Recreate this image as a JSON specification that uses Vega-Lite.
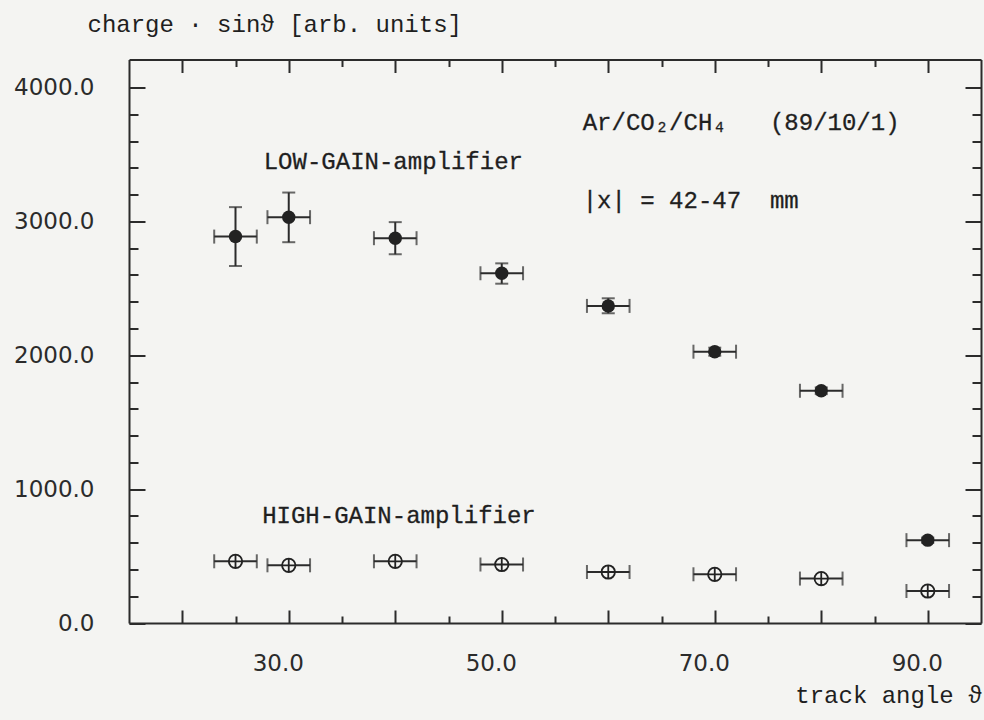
{
  "$schema": "https://vega.github.io/schema/vega-lite/v6.json",
  "width": 852,
  "height": 563.5,
  "autosize": {"type": "none"},
  "padding": {"left": 129, "top": 59.5, "right": 3, "bottom": 97},
  "background": "#f4f4f2",
  "config": {
    "view": {"stroke": null},
    "axis": {
      "grid": false,
      "domainColor": "#2b2b2b",
      "domainWidth": 2,
      "tickColor": "#2b2b2b",
      "tickWidth": 2,
      "labelFont": "DejaVu Sans",
      "labelFontSize": 23,
      "labelColor": "#2b2b2b",
      "titleFont": "Liberation Mono",
      "titleFontSize": 24,
      "titleFontWeight": "normal",
      "titleColor": "#1f1f1f"
    }
  },
  "datasets": {
    "low": [
      {"angle": 25, "charge": 2887, "alo": 23, "ahi": 27, "clo": 2667, "chi": 3107},
      {"angle": 30, "charge": 3032, "alo": 28, "ahi": 32, "clo": 2845, "chi": 3216},
      {"angle": 40, "charge": 2875, "alo": 38, "ahi": 42, "clo": 2755, "chi": 2995},
      {"angle": 50, "charge": 2613, "alo": 48, "ahi": 52, "clo": 2535, "chi": 2687},
      {"angle": 60, "charge": 2369, "alo": 58, "ahi": 62, "clo": 2314, "chi": 2426},
      {"angle": 70, "charge": 2027, "alo": 68, "ahi": 72, "clo": 1997, "chi": 2057},
      {"angle": 80, "charge": 1735, "alo": 78, "ahi": 82, "clo": 1710, "chi": 1760},
      {"angle": 90, "charge": 619, "alo": 88, "ahi": 92, "clo": 599, "chi": 639}
    ],
    "high": [
      {"angle": 25, "charge": 461, "alo": 23, "ahi": 27},
      {"angle": 30, "charge": 431, "alo": 28, "ahi": 32},
      {"angle": 40, "charge": 461, "alo": 38, "ahi": 42},
      {"angle": 50, "charge": 437, "alo": 48, "ahi": 52},
      {"angle": 60, "charge": 381, "alo": 58, "ahi": 62},
      {"angle": 70, "charge": 364, "alo": 68, "ahi": 72},
      {"angle": 80, "charge": 332, "alo": 78, "ahi": 82},
      {"angle": 90, "charge": 239, "alo": 88, "ahi": 92}
    ]
  },
  "resolve": {"axis": {"x": "independent", "y": "independent"}},
  "layer": [
    {
      "data": {"name": "low"},
      "mark": {"type": "errorbar", "color": "#2b2b2b", "thickness": 2, "ticks": {"size": 14, "thickness": 2}},
      "encoding": {
        "x": {"field": "alo", "type": "quantitative", "axis": null, "scale": {"domain": [15, 95], "nice": false, "zero": false}},
        "x2": {"field": "ahi"},
        "y": {"field": "charge", "type": "quantitative", "axis": null, "scale": {"domain": [0, 4210], "nice": false}}
      }
    },
    {
      "data": {"name": "low"},
      "mark": {"type": "errorbar", "color": "#2b2b2b", "thickness": 2, "ticks": {"size": 13, "thickness": 2}},
      "encoding": {
        "x": {"field": "angle", "type": "quantitative", "axis": null},
        "y": {"field": "clo", "type": "quantitative", "axis": null},
        "y2": {"field": "chi"}
      }
    },
    {
      "data": {"name": "high"},
      "mark": {"type": "errorbar", "color": "#2b2b2b", "thickness": 2, "ticks": {"size": 14, "thickness": 2}},
      "encoding": {
        "x": {"field": "alo", "type": "quantitative", "axis": null},
        "x2": {"field": "ahi"},
        "y": {"field": "charge", "type": "quantitative", "axis": null}
      }
    },
    {
      "data": {"name": "low"},
      "mark": {"type": "point", "shape": "circle", "filled": true, "size": 180, "color": "#222222", "opacity": 1},
      "encoding": {
        "x": {
          "field": "angle", "type": "quantitative",
          "scale": {"domain": [15, 95], "nice": false, "zero": false},
          "axis": {
            "orient": "bottom",
            "values": [20, 25, 30, 35, 40, 45, 50, 55, 60, 65, 70, 75, 80, 85, 90],
            "tickSize": {"condition": {"test": "datum.value % 10 === 0", "value": -13}, "value": -7},
            "labelExpr": "datum.value % 20 === 10 ? format(datum.value, '.1f') : ''",
            "labelPadding": 42,
            "labelOffset": -11,
            "labelFlush": false,
            "labelOverlap": false,
            "title": "track angle ϑ",
            "titleAlign": "right",
            "titleAnchor": "end",
            "titleBaseline": "alphabetic",
            "titleX": 853,
            "titleY": 79
          }
        },
        "y": {
          "field": "charge", "type": "quantitative",
          "scale": {"domain": [0, 4210], "nice": false},
          "axis": {
            "orient": "left",
            "values": [0, 200, 400, 600, 800, 1000, 1200, 1400, 1600, 1800, 2000, 2200, 2400, 2600, 2800, 3000, 3200, 3400, 3600, 3800, 4000],
            "tickSize": {"condition": {"test": "datum.value % 1000 === 0", "value": -16}, "value": -9},
            "labelExpr": "datum.value % 1000 === 0 ? format(datum.value, '.1f') : ''",
            "labelPadding": 51,
            "labelFlush": false,
            "labelOverlap": false,
            "title": "charge\u00a0·\u00a0sinϑ\u00a0[arb.\u00a0units]",
            "titleAngle": 0,
            "titleAlign": "left",
            "titleBaseline": "alphabetic",
            "titleX": -42,
            "titleY": -28
          }
        }
      }
    },
    {
      "data": {"name": "high"},
      "mark": {"type": "point", "shape": "M-1,0A1,1 0 1,1 1,0A1,1 0 1,1 -1,0ZM-1,0L1,0M0,-1L0,1", "filled": false, "fill": "#f4f4f2", "fillOpacity": 1, "stroke": "#222222", "strokeWidth": 1.8, "size": 180, "opacity": 1},
      "encoding": {
        "x": {
          "field": "angle", "type": "quantitative",
          "axis": {
            "orient": "top",
            "values": [20, 25, 30, 35, 40, 45, 50, 55, 60, 65, 70, 75, 80, 85, 90],
            "tickSize": {"condition": {"test": "datum.value % 10 === 0", "value": -13}, "value": -7},
            "labels": false,
            "title": null
          }
        },
        "y": {
          "field": "charge", "type": "quantitative",
          "axis": {
            "orient": "right",
            "values": [0, 200, 400, 600, 800, 1000, 1200, 1400, 1600, 1800, 2000, 2200, 2400, 2600, 2800, 3000, 3200, 3400, 3600, 3800, 4000],
            "tickSize": {"condition": {"test": "datum.value % 1000 === 0", "value": -16}, "value": -9},
            "labels": false,
            "title": null
          }
        }
      }
    },
    {
      "data": {"values": [{"label": "LOW-GAIN-amplifier"}]},
      "mark": {"type": "text", "font": "Liberation Mono", "fontSize": 24, "align": "left", "baseline": "alphabetic", "color": "#1f1f1f", "stroke": "#1f1f1f", "strokeWidth": 0.3},
      "encoding": {
        "x": {"datum": 27.65, "type": "quantitative", "axis": null},
        "y": {"datum": 3391, "type": "quantitative", "axis": null},
        "text": {"field": "label"}
      }
    },
    {
      "data": {"values": [{"label": "HIGH-GAIN-amplifier"}]},
      "mark": {"type": "text", "font": "Liberation Mono", "fontSize": 24, "align": "left", "baseline": "alphabetic", "color": "#1f1f1f", "stroke": "#1f1f1f", "strokeWidth": 0.3},
      "encoding": {
        "x": {"datum": 27.5, "type": "quantitative", "axis": null},
        "y": {"datum": 748, "type": "quantitative", "axis": null},
        "text": {"field": "label"}
      }
    },
    {
      "data": {"values": [{"label": "Ar/CO₂/CH₄\u00a0\u00a0\u00a0(89/10/1)"}]},
      "mark": {"type": "text", "font": "Liberation Mono", "fontSize": 24, "align": "left", "baseline": "alphabetic", "color": "#1f1f1f", "stroke": "#1f1f1f", "strokeWidth": 0.3},
      "encoding": {
        "x": {"datum": 57.6, "type": "quantitative", "axis": null},
        "y": {"datum": 3685, "type": "quantitative", "axis": null},
        "text": {"field": "label"}
      }
    },
    {
      "data": {"values": [{"label": "|x|\u00a0=\u00a042-47\u00a0\u00a0mm"}]},
      "mark": {"type": "text", "font": "Liberation Mono", "fontSize": 24, "align": "left", "baseline": "alphabetic", "color": "#1f1f1f", "stroke": "#1f1f1f", "strokeWidth": 0.3},
      "encoding": {
        "x": {"datum": 57.6, "type": "quantitative", "axis": null},
        "y": {"datum": 3099, "type": "quantitative", "axis": null},
        "text": {"field": "label"}
      }
    }
  ]
}
